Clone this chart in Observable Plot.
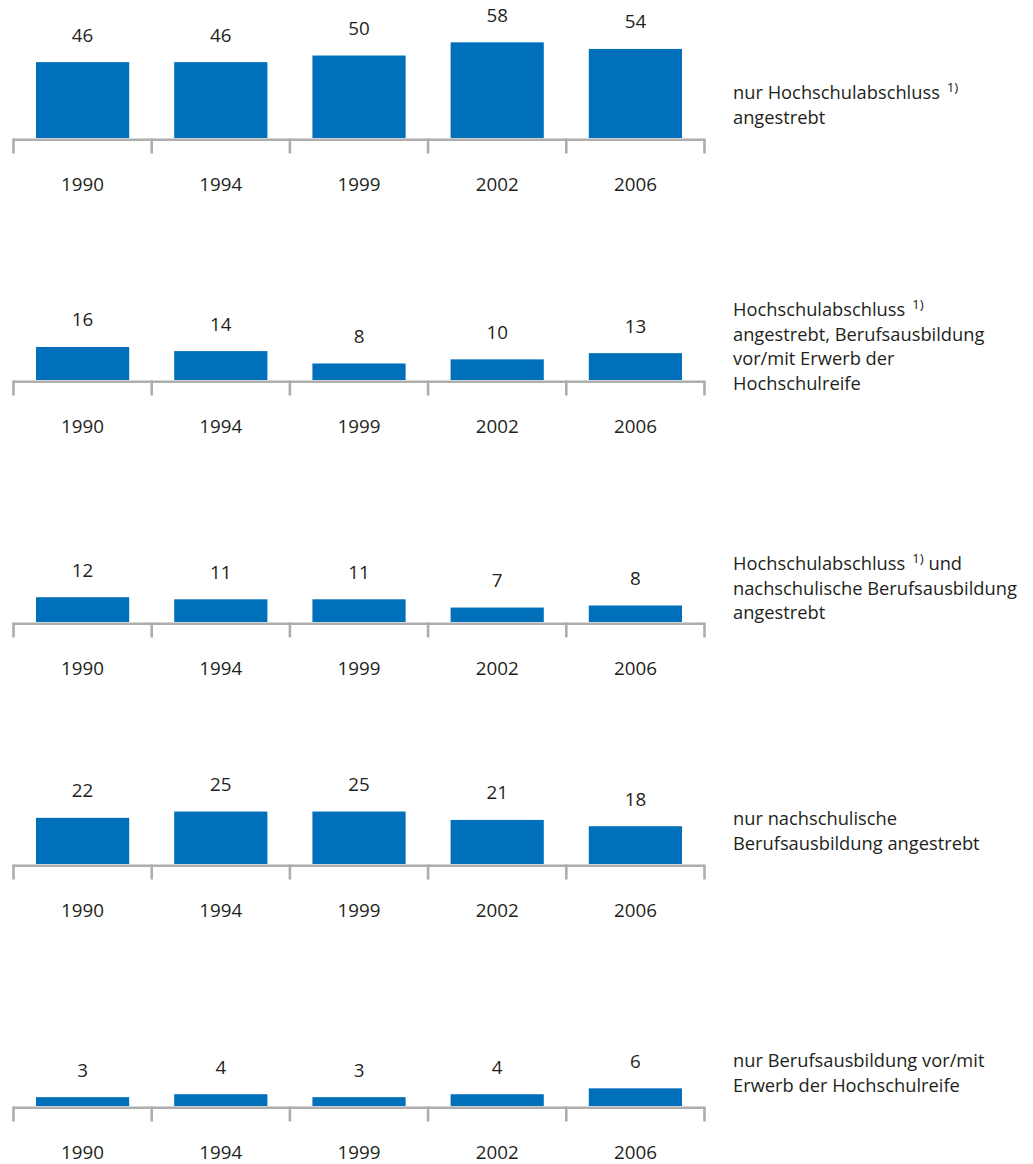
<!DOCTYPE html>
<html>
<head>
<meta charset="utf-8">
<script src="https://cdn.jsdelivr.net/npm/d3@7"></script>
<script src="https://cdn.jsdelivr.net/npm/@observablehq/plot@0.6"></script>
<style>
  html, body { margin: 0; padding: 0; background: #fff; }
  body { width: 1033px; font-family: "Open Sans", sans-serif; color: #231f20; }
  #chart { margin-top: -2px; }
  .panel { position: relative; width: 1033px; }
  .panel svg { display: block; overflow: visible; }
  .label { position: absolute; left: 733px; top: 104px; transform: translateY(-50%);
           font-size: 18.3px; line-height: 24.5px; color: #231f20; white-space: nowrap; }
  .label sup { font-size: 13.5px; line-height: 0; vertical-align: 7px; margin-left: 2px; }
</style>
</head>
<body>
<div id="chart"></div>
<script>
// ---- data ----
const years = [1990, 1994, 1999, 2002, 2006];
const nurHochschule = [46, 46, 50, 58, 54];
const hochschuleVorMit = [16, 14, 8, 10, 13];
const hochschuleNachschulisch = [12, 11, 11, 7, 8];
const nurNachschulisch = [22, 25, 25, 21, 18];
const nurVorMit = [3, 4, 3, 4, 6];
const labels = [
  ["nur Hochschulabschluss 1)", "angestrebt"],
  ["Hochschulabschluss 1)", "angestrebt, Berufsausbildung", "vor/mit Erwerb der", "Hochschulreife"],
  ["Hochschulabschluss 1) und", "nachschulische Berufsausbildung", "angestrebt"],
  ["nur nachschulische", "Berufsausbildung angestrebt"],
  ["nur Berufsausbildung vor/mit", "Erwerb der Hochschulreife"]
];
// y-scale maximum per panel (panels use differing scales in the original)
const yMax = [77.6, 62, 62, 61, 43.5];

const series = [nurHochschule, hochschuleVorMit, hochschuleNachschulisch, nurNachschulisch, nurVorMit];

const blue = "#0070ba";
const gray = "#adadad";
const textColor = "#231f20";
const root = document.getElementById("chart");

series.forEach((vals, k) => {
  const rows = years.map((year, i) => ({i, year, value: vals[i]}));
  const last = k === series.length - 1;
  const h = last ? 194 : 242;
  const chart = Plot.plot({
    width: 720,
    height: h,
    marginLeft: 13,
    marginRight: 16,
    marginTop: 12,
    marginBottom: h - 140,
    style: {fontFamily: "Open Sans, sans-serif", fontSize: "18.8px", color: textColor, background: "transparent"},
    x: {domain: [0, years.length]},
    y: {domain: [0, yMax[k]], axis: null},
    marks: [
      Plot.rectY(rows, {x1: d => d.i, x2: d => d.i + 1, y: "value", insetLeft: 23, insetRight: 22, fill: blue}),
      Plot.ruleY([0], {stroke: gray, strokeWidth: 2.6, dy: 1.3}),
      Plot.axisX({ticks: d3.range(0, years.length + 1), tickSize: 15, tickFormat: () => "", label: null,
                  stroke: gray, strokeWidth: 2.6, dy: 0.5}),
      Plot.text(rows, {x: d => d.i + 0.5, y: "value", text: d => String(d.value), dy: -27,
                       fill: textColor, fontSize: 18.8, lineAnchor: "middle"}),
      Plot.text(rows, {x: d => d.i + 0.5, y: 0, text: d => String(d.year), dy: 46.5,
                       fill: textColor, fontSize: 18.8, lineAnchor: "middle"})
    ]
  });
  const panel = document.createElement("div");
  panel.className = "panel";
  panel.style.height = h + "px";
  panel.appendChild(chart);
  const lab = document.createElement("div");
  lab.className = "label";
  lab.style.top = "106px";
  lab.innerHTML = labels[k].map(line => line.replace("1)", "<sup>1)</sup>")).join("<br>");
  panel.appendChild(lab);
  root.appendChild(panel);
});
</script>
</body>
</html>
